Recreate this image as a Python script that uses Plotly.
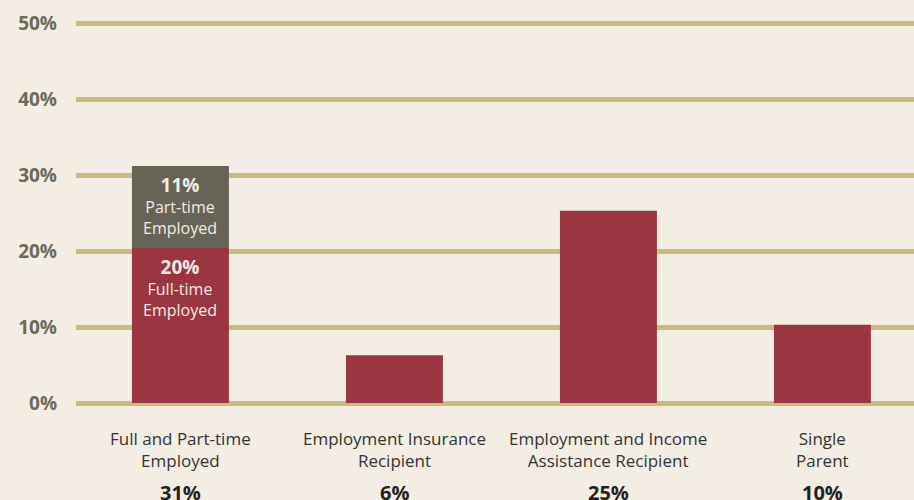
import plotly.graph_objects as go

categories = ["Full and Part-time<br>Employed", "Employment Insurance<br>Recipient",
              "Employment and Income<br>Assistance Recipient", "Single<br>Parent"]
total_labels = ["31%", "6%", "25%", "10%"]
main_values = [20.4, 6.3, 25.3, 10.3]
part_time = [10.8, 0, 0, 0]
y_ticks = [0, 10, 20, 30, 40, 50]
y_tick_labels = ["0%", "10%", "20%", "30%", "40%", "50%"]

BG = "#f4ede3"
RED = "#9b3541"
GREY = "#676457"
GRID = "#cbbb82"
FONT = "Open Sans"

xs = list(range(len(categories)))
fig = go.Figure()
fig.add_bar(x=xs, y=main_values, marker=dict(color=RED, line=dict(width=0)), width=0.453)
fig.add_bar(x=[0], y=[part_time[0]], base=[main_values[0]],
            marker=dict(color=GREY, line=dict(width=0)), width=0.453)

ann = []
def seg_label(x, top, pct, l1, l2):
    ann.append(dict(x=x, y=top, xref="x", yref="y", yanchor="top", showarrow=False,
                    yshift=-4,
                    text=f"<b><span style='font-size:19px'>{pct}</span></b><br>{l1}<br>{l2}",
                    font=dict(family=FONT, size=16, color="#f1ece4"), align="center"))
seg_label(0, main_values[0] + part_time[0], "11%", "Part-time", "Employed")
seg_label(0, main_values[0], "20%", "Full-time", "Employed")

for i, (c, t) in enumerate(zip(categories, total_labels)):
    ann.append(dict(x=i, y=0, xref="x", yref="y", yanchor="top", showarrow=False,
                    yshift=-22, text=c, font=dict(family=FONT, size=17, color="#333333"),
                    align="center"))
    ann.append(dict(x=i, y=0, xref="x", yref="y", yanchor="top", showarrow=False,
                    yshift=-74, text=f"<b>{t}</b>", font=dict(family=FONT, size=20, color="#231f20"),
                    align="center"))

fig.update_layout(
    width=914, height=500, barmode="overlay", showlegend=False,
    paper_bgcolor=BG, plot_bgcolor=BG,
    margin=dict(l=76, r=0, t=10, b=90),
    annotations=ann,
    xaxis=dict(range=[-0.488, 3.428], showgrid=False, zeroline=False,
               showticklabels=False, fixedrange=True),
    yaxis=dict(range=[-0.92, 51.71], tickvals=y_ticks, ticktext=y_tick_labels,
               showgrid=True, gridcolor=GRID, gridwidth=5, zeroline=False,
               tickfont=dict(family=FONT, size=19, color="#6b6a5c", weight="bold"),
               ticklabelstandoff=18, layer="below traces"),
)
fig.write_html("out.html", config={"displayModeBar": False},
               post_script="document.body.style.margin='0';document.body.style.background='" + BG + "';")
